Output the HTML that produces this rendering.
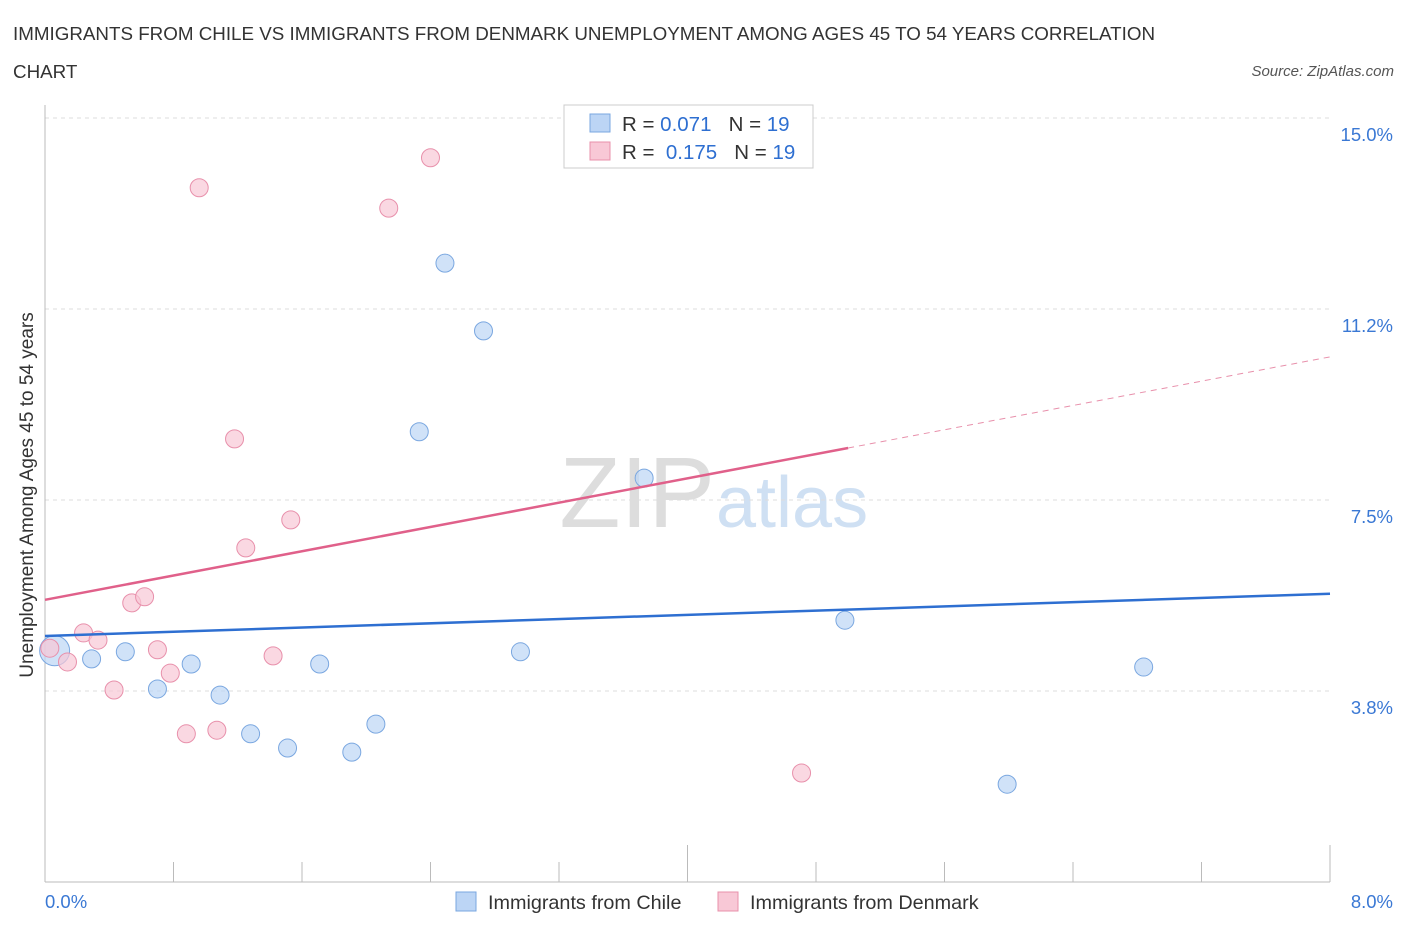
<!DOCTYPE html>
<html><head><meta charset="utf-8">
<style>
body{margin:0;background:#fff;font-family:"Liberation Sans",sans-serif;}
svg text{font-family:"Liberation Sans",sans-serif;}
</style></head>
<body>
<svg id="chart" width="1406" height="930" xmlns="http://www.w3.org/2000/svg">
<text x="13" y="40" font-size="18.8" fill="#333">IMMIGRANTS FROM CHILE VS IMMIGRANTS FROM DENMARK UNEMPLOYMENT AMONG AGES 45 TO 54 YEARS CORRELATION</text>
<text x="13" y="78" font-size="18.8" fill="#333">CHART</text>
<text x="1394" y="76" font-size="15" fill="#555" font-style="italic" text-anchor="end">Source: ZipAtlas.com</text>
<text x="715" y="527" font-size="100" fill="#ddd" text-anchor="end" font-family="Liberation Serif">ZIP</text>
<text x="716" y="527" font-size="72" fill="#cfe0f3">atlas</text>
<g id="grid"></g>
<g id="marks"></g>
<text x="33" y="495" font-size="19" fill="#333" text-anchor="middle" transform="rotate(-90 33 495)">Unemployment Among Ages 45 to 54 years</text>
<rect x="564" y="105" width="249" height="63" fill="#fff" stroke="#ccc"/>
<rect x="590" y="114" width="20" height="18" fill="#bcd5f5" stroke="#7aa7e0"/>
<text x="622" y="131" font-size="20.5" fill="#333">R = <tspan fill="#2e6fd1">0.071</tspan>&#160;&#160;&#160;N = <tspan fill="#2e6fd1">19</tspan></text>
<rect x="590" y="142" width="20" height="18" fill="#f8c8d6" stroke="#e890ab"/>
<text x="622" y="159" font-size="20.5" fill="#333">R = &#160;<tspan fill="#2e6fd1">0.175</tspan>&#160;&#160;&#160;N = <tspan fill="#2e6fd1">19</tspan></text>
<text x="45" y="908" font-size="18.5" fill="#3a78d4">0.0%</text>
<text x="1393" y="908" font-size="18.5" fill="#3a78d4" text-anchor="end">8.0%</text>
<rect x="456" y="892" width="20" height="19" fill="#bcd5f5" stroke="#7aa7e0"/>
<text x="488" y="909" font-size="19.8" fill="#333">Immigrants from Chile</text>
<rect x="718" y="892" width="20" height="19" fill="#f8c8d6" stroke="#e890ab"/>
<text x="750" y="909" font-size="19.8" fill="#333">Immigrants from Denmark</text>
</svg>
<script>
const yTicks=[15,11.25,7.5,3.75];
const yTickLabels=["15.0%","11.2%","7.5%","3.8%"];
const chileX=[0.06,0.29,0.50,0.70,0.91,1.09,1.28,1.51,1.71,1.91,2.06,2.33,2.49,2.73,2.96,3.73,4.98,5.99,6.84];
const chileY=[4.54,4.38,4.52,3.79,4.28,3.67,2.91,2.63,4.28,2.55,3.10,8.84,12.15,10.82,4.52,7.93,5.14,1.92,4.22];
const denX=[0.03,0.14,0.24,0.33,0.43,0.54,0.62,0.70,0.78,0.88,0.96,1.07,1.18,1.25,1.42,1.53,2.14,2.40,4.71];
const denY=[4.59,4.32,4.89,4.75,3.77,5.48,5.60,4.56,4.10,2.91,13.63,2.98,8.70,6.56,4.44,7.11,13.23,14.22,2.14];
const chileTrend=[4.83,5.66];
const denTrend=[5.54,10.31];
const denSolidEnd=5.0;
const xMax=8;
const X=v=>45+v*(1330-45)/xMax;
const Y=v=>882-v*(882-118)/15;
const NS="http://www.w3.org/2000/svg";
function mk(p,t,a){const e=document.createElementNS(NS,t);for(const k in a)e.setAttribute(k,a[k]);p.appendChild(e);return e;}
const grid=document.getElementById('grid'),marks=document.getElementById('marks');
yTicks.forEach((t,i)=>{
 const l=mk(grid,'line',{x1:45,x2:1330,y1:Y(t),y2:Y(t),stroke:'#ddd','stroke-dasharray':'4,4'});
 
 
 const tx=mk(grid,'text',{x:1393,y:Y(t)+23,'font-size':18.5,fill:'#3a78d4','text-anchor':'end'});
 tx.textContent=yTickLabels[i];
 
 
});
const ax=mk(grid,'line',{x1:45,x2:1330,y1:882,y2:882,stroke:'#bbb'});


const ay=mk(grid,'line',{x1:45,x2:45,y1:105,y2:882,stroke:'#bbb'});


for(let i=0;i<=10;i++){
 const v=i*0.8;
 const tk=mk(grid,'line',{x1:X(v),x2:X(v),y1:(i==5||i==10)?845:862,y2:882,stroke:'#bbb'});
 
 
}
chileX.forEach((x,i)=>{
 const c=mk(marks,'circle',{cx:X(x),cy:Y(chileY[i]),r:i==0?15:9,fill:'#bcd5f5','fill-opacity':0.7,stroke:'#7aa7e0'});
 
 
});
denX.forEach((x,i)=>{
 const c=mk(marks,'circle',{cx:X(x),cy:Y(denY[i]),r:9,fill:'#f8c8d6','fill-opacity':0.7,stroke:'#e890ab'});
 
 
});
const bl=mk(marks,'line',{x1:X(0),y1:Y(chileTrend[0]),x2:X(xMax),y2:Y(chileTrend[1]),stroke:'#2e6fd1','stroke-width':2.5});


const dAt=v=>denTrend[0]+(denTrend[1]-denTrend[0])*v/xMax;
const pl=mk(marks,'line',{x1:X(0),y1:Y(dAt(0)),x2:X(denSolidEnd),y2:Y(dAt(denSolidEnd)),stroke:'#e0608a','stroke-width':2.5});


const pd=mk(marks,'line',{x1:X(denSolidEnd),y1:Y(dAt(denSolidEnd)),x2:X(xMax),y2:Y(dAt(xMax)),stroke:'#e890ab','stroke-width':1,'stroke-dasharray':'6,5'});


</script>
</body></html>
